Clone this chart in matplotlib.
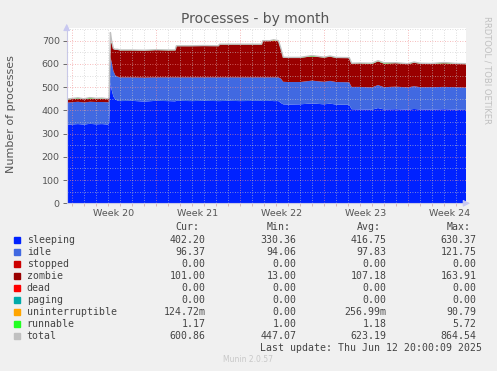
import numpy as np
import matplotlib.pyplot as plt

# time axis in days, 0 = start of week 20
days = [-0.44, 0.5, 1.0, 1.5, 2.0, 2.5, 3.0, 3.1, 3.2, 3.3, 3.45, 3.6, 3.8, 4.0,
        5.0, 6.0, 7.0, 8.0, 8.6, 8.7, 10.0, 11.0, 12.2, 12.3, 13.0, 14.0, 15.8,
        15.9, 16.5, 16.8, 17.2, 17.4, 17.6, 18.0, 19.0, 20.0, 21.0, 21.5, 22.0,
        23.1, 23.3, 24.0, 25.0, 25.5, 26.0, 27.0, 28.0, 28.5, 29.0, 30.0, 31.0,
        32.0, 32.83]
sleeping = [338, 341, 339, 342, 340, 341, 339, 345, 520, 490, 460, 448, 442, 440,
            441, 438, 441, 440, 439, 441, 440, 441, 440, 440, 441, 440, 441,
            440, 441, 440, 440, 432, 426, 425, 426, 430, 426, 429, 425,
            424, 405, 404, 403, 410, 404, 405, 403, 406, 404, 403, 405,
            403, 402]
idle = [95, 96, 95, 95, 96, 95, 96, 95, 110, 120, 110, 104, 102, 102,
        101, 103, 101, 102, 103, 101, 102, 101, 102, 102, 101, 102, 101,
        102, 101, 102, 102, 105, 97, 97, 96, 98, 97, 98, 97,
        97, 96, 97, 96, 99, 96, 97, 96, 98, 96, 97, 96,
        97, 96]
zombie = [14, 14, 15, 14, 15, 14, 14, 15, 60, 80, 95, 110, 118, 117,
          117, 117, 118, 117, 117, 135, 135, 136, 135, 142, 142, 142, 142,
          157, 157, 157, 157, 130, 105, 104, 105, 104, 105, 104, 105,
          105, 101, 102, 101, 102, 101, 102, 101, 101, 102, 101, 102,
          101, 101]
uninterruptible = [0] * 29 + [4] + [0] * 23
runnable = [1, 3, 1, 4, 1, 3, 1, 1, 2, 1, 1, 1, 1, 1,
            1, 1, 1, 1, 1, 1, 1, 1, 1, 1, 1, 1, 1,
            1, 1, 1, 1, 1, 1, 2, 1, 4, 1, 3, 1,
            1, 1, 1, 3, 1, 4, 1, 1, 3, 1, 1, 3,
            1, 1]
total = [449, 454, 450, 455, 452, 453, 450, 456, 735, 700, 666, 663, 663, 660,
         660, 659, 661, 660, 660, 678, 678, 679, 678, 685, 685, 685, 685,
         700, 700, 704, 700, 668, 629, 628, 628, 636, 629, 634, 628,
         627, 603, 604, 603, 614, 605, 605, 601, 608, 603, 602, 606,
         602, 601]

names = ["sleeping", "idle", "stopped", "zombie", "dead", "paging",
         "uninterruptible", "runnable", "total"]
colors = ["#0022ff", "#4169e1", "#cc0000", "#990000", "#ff0000", "#00aaaa",
          "#ffa500", "#22ff22", "#c0c0c0"]
cur = ["402.20", "96.37", "0.00", "101.00", "0.00", "0.00", "124.72m", "1.17", "600.86"]
mins = ["330.36", "94.06", "0.00", "13.00", "0.00", "0.00", "0.00", "1.00", "447.07"]
avgs = ["416.75", "97.83", "0.00", "107.18", "0.00", "0.00", "256.99m", "1.18", "623.19"]
maxs = ["630.37", "121.75", "0.00", "163.91", "0.00", "0.00", "90.79", "5.72", "864.54"]
week_labels = ["Week 20", "Week 21", "Week 22", "Week 23", "Week 24"]

W, H = 497, 371
fig = plt.figure(figsize=(W / 100, H / 100), dpi=100, facecolor="#f0f0f0")
ax = fig.add_axes([66.7 / W, 1 - 203.3 / H, 399.3 / W, 175.3 / H])
ax.set_facecolor("white")

zero = [0] * len(days)
layers = [sleeping, idle, zero, zombie, zero, zero, uninterruptible, runnable]
ax.stackplot(days, *layers, colors=colors[:8], linewidth=0, zorder=1)
ax.plot(days, total, color="#c0c0c0", lw=1, zorder=2)

ax.set_xlim(-0.44, 32.83)
ax.set_ylim(0, 754.6)

# grid drawn over the data, rrdtool style
for y in range(50, 800, 50):
    if y % 100 == 0:
        ax.axhline(y, color="#f09090", lw=0.6, ls=(0, (1, 2)), alpha=0.8, zorder=3)
    else:
        ax.axhline(y, color="#c8c8c8", lw=0.6, ls=(0, (1, 2)), alpha=0.8, zorder=3)
for d in range(0, 33):
    if d % 7 == 0:
        ax.axvline(d, color="#f09090", lw=0.6, ls=(0, (1, 2)), alpha=0.8, zorder=3)
    else:
        ax.axvline(d, color="#c8c8c8", lw=0.6, ls=(0, (1, 2)), alpha=0.8, zorder=3)

for s in ["top", "right"]:
    ax.spines[s].set_visible(False)
for s in ["left", "bottom"]:
    ax.spines[s].set_color("#c8c8e8")
    ax.spines[s].set_linewidth(0.8)

ax.set_yticks(range(0, 800, 100))
ax.tick_params(axis="y", labelsize=6.8, colors="#555555", length=3, width=0.6, pad=2)
ax.set_xticks([3.5, 10.5, 17.5, 24.5, 31.5])
ax.set_xticklabels(week_labels)
ax.tick_params(axis="x", labelsize=6.8, colors="#555555", length=0, pad=4)
ax.set_xticks(range(0, 33), minor=True)
ax.tick_params(axis="x", which="minor", length=2, width=0.5, colors="#d0a0a0")

# axis arrows
ax.annotate("", xy=(-0.44, 1.04), xycoords=("data", "axes fraction"),
            xytext=(-0.44, 0.98), arrowprops=dict(arrowstyle="-|>", color="#c8c8f0", lw=0.8),
            annotation_clip=False)
ax.annotate("", xy=(33.4, 0), xycoords="data", xytext=(32.6, 0),
            arrowprops=dict(arrowstyle="-|>", color="#c8c8f0", lw=0.8),
            annotation_clip=False)

fig.text(255 / W, 1 - 19 / H, "Processes - by month", ha="center", va="center",
         fontsize=10, color="#555555")
fig.text(10.7 / W, 1 - 114 / H, "Number of processes", rotation=90, ha="center",
         va="center", fontsize=8, color="#555555")
fig.text(487 / W, 1 - 70 / H, "RRDTOOL / TOBI OETIKER", rotation=270, ha="center",
         va="center", fontsize=6, color="#c0c0c0")

mono = "DejaVu Sans Mono"
fs = 7.1
tc = "#444444"
cols = [205.7, 296.7, 386.7, 476.7]
for x, h in zip(cols, ["Cur:", "Min:", "Avg:", "Max:"]):
    fig.text((x - 6) / W, 1 - 227.3 / H, h, ha="right", va="center",
             family=mono, fontsize=fs, color=tc)
for i, name in enumerate(names):
    y = 240 + 11.95 * i
    fig.patches.append(plt.Rectangle((14 / W, 1 - (y + 3) / H), 6 / W, 6 / H,
                                     transform=fig.transFigure, color=colors[i]))
    fig.text(26.7 / W, 1 - y / H, name, ha="left", va="center",
             family=mono, fontsize=fs, color=tc)
    for x, vals in zip(cols, [cur, mins, avgs, maxs]):
        fig.text(x / W, 1 - y / H, vals[i], ha="right", va="center",
                 family=mono, fontsize=fs, color=tc)
fig.text(482 / W, 1 - 347.7 / H, "Last update: Thu Jun 12 20:00:09 2025",
         ha="right", va="center", family=mono, fontsize=fs, color=tc)
fig.text(248 / W, 1 - 360 / H, "Munin 2.0.57", ha="center", va="center",
         fontsize=5.5, color="#c8c8c8")

fig.savefig("out.png", dpi=100, facecolor=fig.get_facecolor())
